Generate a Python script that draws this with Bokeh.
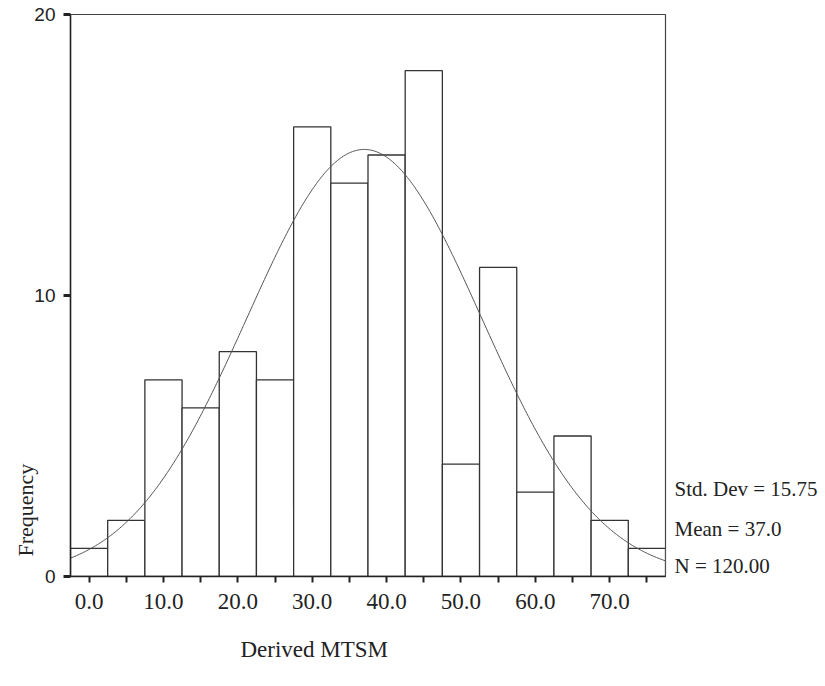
import numpy as np
from bokeh.plotting import figure
from bokeh.models import (FixedTicker, CustomJSTickFormatter, ColumnDataSource,
                          LinearAxis, Title)
from bokeh.embed import file_html
from bokeh.resources import INLINE

# ---- data ----
bin_centers = [0, 5, 10, 15, 20, 25, 30, 35, 40, 45, 50, 55, 60, 65, 70, 75]
frequencies = [1, 2, 7, 6, 8, 7, 16, 14, 15, 18, 4, 11, 3, 5, 2, 1]
bin_width = 5.0
y_ticks = [0, 10, 20]
std_dev = 15.75
mean = 37.0
n_total = 120
stats_lines = ["Std. Dev = 15.75", "Mean = 37.0", "N = 120.00"]
x_title = "Derived MTSM"
y_title = "Frequency"

SERIF = "Liberation Serif"
SANS = "Liberation Sans"
INK = "#222222"

lefts = [c - bin_width / 2 for c in bin_centers]
rights = [c + bin_width / 2 for c in bin_centers]
src = ColumnDataSource(dict(left=lefts, right=rights, top=frequencies,
                            bottom=[0] * len(frequencies)))

x_lo, x_hi = lefts[0], rights[-1]

p = figure(width=825, height=686, x_range=(x_lo, x_hi), y_range=(y_ticks[0], y_ticks[-1]),
           output_backend="svg", toolbar_location=None,
           min_border_left=70, min_border_right=160, min_border_top=14, min_border_bottom=110)

p.quad(left="left", right="right", top="top", bottom="bottom", source=src,
       fill_color="white", line_color="#333333", line_width=1.3)

# fitted normal curve from the stated statistics
xs = np.linspace(x_lo, x_hi, 400)
ys = n_total * bin_width / (std_dev * np.sqrt(2 * np.pi)) * np.exp(-0.5 * ((xs - mean) / std_dev) ** 2)
p.line(xs, ys, line_color="#555555", line_width=1)

p.xgrid.visible = False
p.ygrid.visible = False
p.background_fill_color = "white"
p.border_fill_color = "white"
p.outline_line_color = "#444444"
p.outline_line_width = 1.2

# x axis
xa = p.xaxis[0]
xa.ticker = FixedTicker(ticks=bin_centers)
xa.formatter = CustomJSTickFormatter(code="return (Math.round(tick) % 10 == 0) ? tick.toFixed(1) : '';")
xa.major_tick_in = 0
xa.major_tick_out = 6
xa.major_tick_line_width = 2
xa.major_tick_line_color = INK
xa.minor_tick_line_color = None
xa.axis_line_color = INK
xa.axis_line_width = 1.3
xa.major_label_text_font = SERIF
xa.major_label_text_font_size = "23px"
xa.major_label_text_color = INK
xa.major_label_standoff = 11

# y axis
ya = p.yaxis[0]
ya.ticker = FixedTicker(ticks=y_ticks)
ya.major_tick_in = 0
ya.major_tick_out = 7
ya.major_tick_line_width = 3
ya.major_tick_line_color = INK
ya.minor_tick_line_color = None
ya.axis_line_color = INK
ya.axis_line_width = 1.5
ya.major_label_text_font = SANS
ya.major_label_text_font_size = "19px"
ya.major_label_text_color = INK
ya.major_label_standoff = 8

# statistics block at the right, drawn as the labels of a bare right-hand axis
stat_pos = [3.12, 1.70, 0.37]  # vertical placement only
ra = LinearAxis(ticker=FixedTicker(ticks=stat_pos),
                formatter=CustomJSTickFormatter(
                    args=dict(pos=stat_pos, labels=stats_lines),
                    code="""
let b = 0;
for (let i = 0; i < pos.length; i++) {
  if (Math.abs(pos[i] - tick) < Math.abs(pos[b] - tick)) b = i;
}
return labels[b];
"""))
ra.axis_line_color = None
ra.major_tick_line_color = None
ra.minor_tick_line_color = None
ra.major_tick_in = 0
ra.major_tick_out = 0
ra.major_label_standoff = 9
ra.major_label_text_font = SERIF
ra.major_label_text_font_size = "21px"
ra.major_label_text_color = INK
p.add_layout(ra, "right")

# axis titles
p.add_layout(Title(text=x_title, align="left", offset=170, standoff=47,
                   text_font=SERIF, text_font_size="23px", text_font_style="normal",
                   text_color=INK), "below")
p.add_layout(Title(text=y_title, align="left", offset=20, standoff=-12,
                   text_font=SERIF, text_font_size="22px", text_font_style="normal",
                   text_color=INK), "left")

open("out.html", "w").write(file_html(p, INLINE))
